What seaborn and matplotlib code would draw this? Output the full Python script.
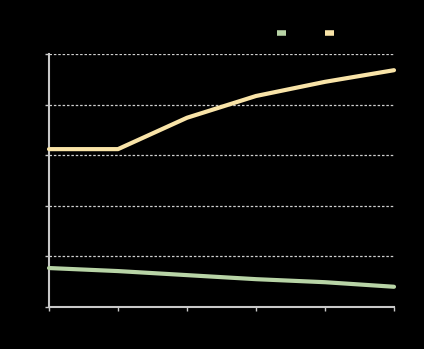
import matplotlib
matplotlib.use("Agg")
import matplotlib.pyplot as plt
import seaborn as sns
import pandas as pd

years = ["2015", "2016", "2017", "2018", "2019", "2020"]
series_green = [0.77, 0.71, 0.63, 0.55, 0.49, 0.40]
series_yellow = [3.12, 3.12, 3.74, 4.17, 4.45, 4.68]
labels = ["Series A", "Series B"]
colors = ["#b8d4a6", "#f9e4a8"]

df = pd.DataFrame({
    "x": list(range(len(years))) * 2,
    "value": series_green + series_yellow,
    "series": [labels[0]] * len(years) + [labels[1]] * len(years),
})

sns.set_theme(style="dark")
fig = plt.figure(figsize=(4.24, 3.49), dpi=100, facecolor="black")
ax = fig.add_axes([49/424, 42/349, 345/424, 253/349])
ax.set_facecolor("black")

sns.lineplot(data=df, x="x", y="value", hue="series", palette=colors,
             linewidth=3.0, ax=ax, legend=False, clip_on=False, zorder=3)

ax.set_xlim(0, len(years) - 1)
ax.set_ylim(0, 5)
ax.set_xticks(range(len(years)))
ax.set_xticklabels(years, color="black", fontsize=7)
ax.set_yticks([0, 1, 2, 3, 4, 5])
ax.set_yticklabels(["0", "1", "2", "3", "4", "5"], color="black", fontsize=7)
ax.set_xlabel("")
ax.set_ylabel("")
ax.grid(False)
ax.yaxis.grid(True, color="#d0d0d0", linestyle=(0, (2, 1.5)), linewidth=0.9)
for s in ["top", "right"]:
    ax.spines[s].set_visible(False)
for s in ["left", "bottom"]:
    ax.spines[s].set_color("#c8c8c8")
    ax.spines[s].set_linewidth(1.5)
ax.tick_params(axis="both", which="major", bottom=True, left=True, colors="#c8c8c8",
               length=3, width=1, labelcolor="black", direction="out")

from matplotlib.lines import Line2D
handles = [Line2D([0], [0], color=c, linewidth=4, solid_capstyle="butt") for c in colors]
fig.legend(handles, labels, loc="center left", bbox_to_anchor=(268/424, 1 - 33/349),
           ncol=2, frameon=False, handlelength=0.95, handletextpad=0.4, columnspacing=-0.5,
           fontsize=7, labelcolor="black")

fig.savefig("out.png", dpi=100, facecolor="black")
